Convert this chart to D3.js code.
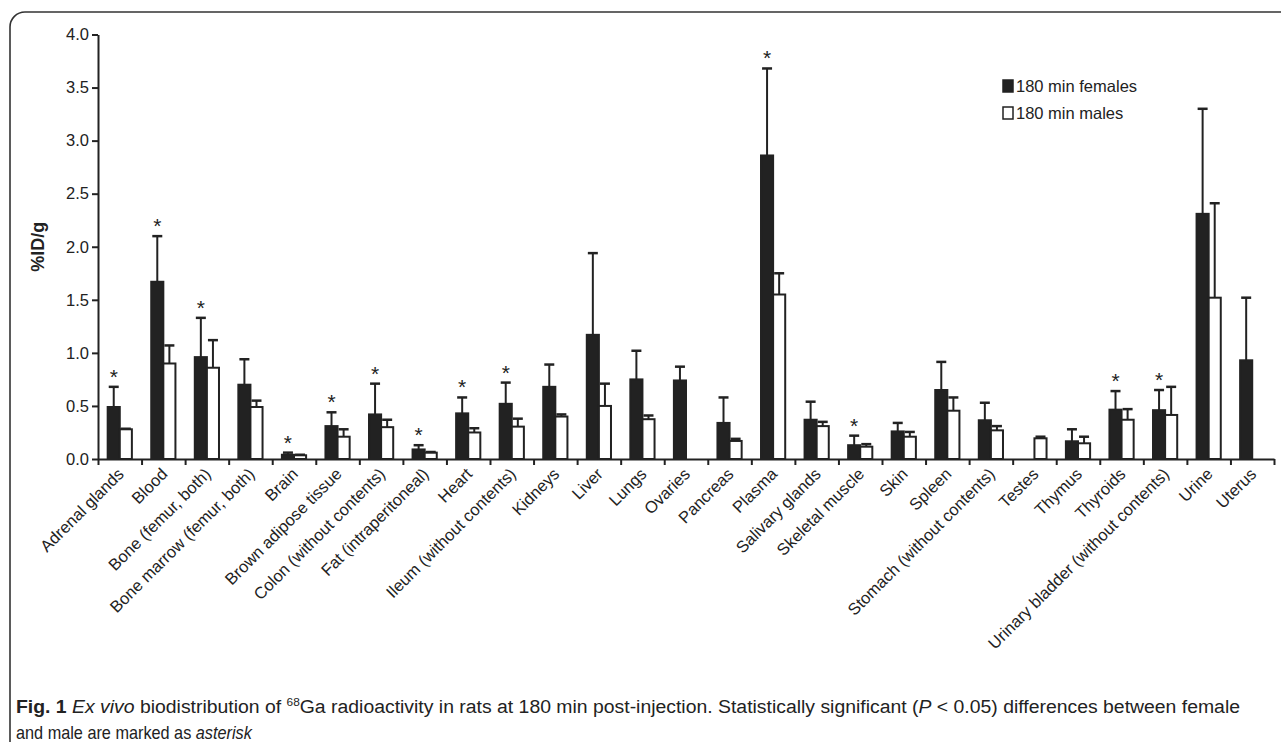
<!DOCTYPE html>
<html>
<head>
<meta charset="utf-8">
<script src="https://cdn.jsdelivr.net/npm/d3@7"></script>
<style>
  body { margin: 0; background: #fff; }
  svg { display: block; }
  text { font-family: "Liberation Sans", Arial, sans-serif; fill: #222; }
</style>
</head>
<body>
<div id="canvas"></div>
<script>
// data (%ID/g, mean and upper SD)
const categories = ["Adrenal glands", "Blood", "Bone (femur, both)", "Bone marrow (femur, both)", "Brain",
  "Brown adipose tissue", "Colon (without contents)", "Fat (intraperitoneal)", "Heart", "Ileum (without contents)",
  "Kidneys", "Liver", "Lungs", "Ovaries", "Pancreas", "Plasma", "Salivary glands", "Skeletal muscle", "Skin",
  "Spleen", "Stomach (without contents)", "Testes", "Thymus", "Thyroids", "Urinary bladder (without contents)",
  "Urine", "Uterus"];

const females = [0.49, 1.67, 0.96, 0.70, 0.04, 0.31, 0.42, 0.09, 0.43, 0.52, 0.68, 1.17, 0.75, 0.74, 0.34, 2.86,
  0.37, 0.13, 0.26, 0.65, 0.365, null, 0.167, 0.465, 0.46, 2.31, 0.93];
const femalesSD = [0.19, 0.43, 0.37, 0.24, 0.02, 0.13, 0.29, 0.04, 0.15, 0.20, 0.21, 0.77, 0.27, 0.13, 0.24, 0.82,
  0.17, 0.09, 0.08, 0.265, 0.165, null, 0.113, 0.175, 0.19, 0.99, 0.59];
const males = [0.28, 0.90, 0.86, 0.49, 0.035, 0.21, 0.30, 0.06, 0.25, 0.305, 0.40, 0.50, 0.375, null, 0.17, 1.55,
  0.31, 0.116, 0.21, 0.455, 0.27, 0.195, 0.148, 0.37, 0.415, 1.52, null];
const malesSD = [0.005, 0.17, 0.26, 0.06, 0.005, 0.07, 0.07, 0.006, 0.04, 0.075, 0.02, 0.21, 0.035, null, 0.02, 0.20,
  0.04, 0.024, 0.045, 0.125, 0.04, 0.015, 0.062, 0.10, 0.265, 0.89, null];
const significant = ["Adrenal glands", "Blood", "Bone (femur, both)", "Brain", "Brown adipose tissue",
  "Colon (without contents)", "Fat (intraperitoneal)", "Heart", "Ileum (without contents)", "Plasma",
  "Skeletal muscle", "Thyroids", "Urinary bladder (without contents)"];
const yTicks = [0, 0.5, 1.0, 1.5, 2.0, 2.5, 3.0, 3.5, 4.0];
const seriesNames = ["180 min females", "180 min males"];

const width = 1281;
const height = 742;
const margin = { top: 34.5, left: 98, bottom: 283, right: 7 };
const dark = "#222";

const svg = d3.select("#canvas").append("svg")
  .attr("width", width)
  .attr("height", height);

// panel frame
svg.append("rect")
  .attr("x", 10).attr("y", 12)
  .attr("width", 1290).attr("height", 760)
  .attr("rx", 15)
  .attr("fill", "none")
  .attr("stroke", "#333")
  .attr("stroke-width", 1.6);

const y = d3.scaleLinear()
  .domain([0, 4])
  .range([height - margin.bottom, margin.top]);

const x = d3.scaleBand()
  .domain(categories)
  .range([margin.left, width - margin.right])
  .padding(0);

const xs = d3.scaleBand()
  .domain(["f", "m"])
  .range([0, x.bandwidth()])
  .paddingInner(0)
  .paddingOuter(0.8);

const xEdges = d3.scaleLinear()
  .domain([0, categories.length])
  .range(x.range());

// y axis
const yAxis = svg.append("g")
  .attr("transform", `translate(${margin.left},0)`)
  .call(d3.axisLeft(y).tickValues(yTicks).tickFormat(d3.format(".1f")).tickSize(6).tickSizeOuter(0));
yAxis.select(".domain").attr("stroke", dark).attr("stroke-width", 2);
yAxis.selectAll(".tick line").attr("stroke", dark).attr("stroke-width", 2);
yAxis.selectAll(".tick text")
  .attr("x", -9)
  .style("font-size", "16.5px")
  .style("font-family", "Liberation Sans, Arial, sans-serif")
  .attr("fill", dark);

svg.append("text")
  .attr("transform", `translate(44,${y(2)}) rotate(-90)`)
  .attr("text-anchor", "middle")
  .style("font-size", "18px")
  .style("font-weight", "bold")
  .text("%ID/g");

// x axis with ticks between categories
const xAxis = svg.append("g")
  .attr("transform", `translate(0,${y(0)})`)
  .call(d3.axisBottom(xEdges).tickValues(d3.range(categories.length + 1)).tickFormat("").tickSize(6).tickSizeOuter(0));
xAxis.select(".domain").attr("stroke", dark).attr("stroke-width", 2);
xAxis.selectAll(".tick line").attr("stroke", dark).attr("stroke-width", 2);

svg.append("g").selectAll("text")
  .data(categories)
  .join("text")
  .attr("transform", d => `translate(${x(d) + x.bandwidth() / 2 + 1},${y(0) + 12}) rotate(-45)`)
  .attr("text-anchor", "end")
  .attr("dy", "0.35em")
  .style("font-size", "16.5px")
  .text(d => d);

// bars
const rows = categories.map((c, i) => ({
  cat: c,
  f: females[i], fsd: femalesSD[i],
  m: males[i], msd: malesSD[i]
}));

const plot = svg.append("g");

function drawSeries(key, sdKey, fill) {
  const data = rows.filter(d => d[key] != null);
  const g = plot.append("g");
  g.selectAll("rect")
    .data(data)
    .join("rect")
    .attr("x", d => x(d.cat) + xs(key))
    .attr("y", d => y(d[key]))
    .attr("width", xs.bandwidth())
    .attr("height", d => y(0) - y(d[key]))
    .attr("fill", fill)
    .attr("stroke", dark)
    .attr("stroke-width", 2);

  const cx = d => x(d.cat) + xs(key) + xs.bandwidth() / 2;
  g.selectAll("line.err")
    .data(data)
    .join("line")
    .attr("class", "err")
    .attr("x1", cx).attr("x2", cx)
    .attr("y1", d => y(d[key]))
    .attr("y2", d => y(d[key] + d[sdKey]))
    .attr("stroke", dark)
    .attr("stroke-width", 2);
  g.selectAll("line.cap")
    .data(data)
    .join("line")
    .attr("class", "cap")
    .attr("x1", d => cx(d) - 5).attr("x2", d => cx(d) + 5)
    .attr("y1", d => y(d[key] + d[sdKey]))
    .attr("y2", d => y(d[key] + d[sdKey]))
    .attr("stroke", dark)
    .attr("stroke-width", 2.5);
}

drawSeries("f", "fsd", dark);
drawSeries("m", "msd", "#fff");

// significance stars above the female error bars
plot.append("g").selectAll("text")
  .data(rows.filter(d => significant.includes(d.cat)))
  .join("text")
  .attr("x", d => x(d.cat) + xs("f") + xs.bandwidth() / 2)
  .attr("y", d => y(d.f + d.fsd) - 3)
  .attr("text-anchor", "middle")
  .style("font-size", "21px")
  .text("*");

// legend
const legend = svg.append("g").attr("transform", "translate(1003,0)");
seriesNames.forEach((name, i) => {
  const ly = 92 + i * 27;
  legend.append("rect")
    .attr("x", 0).attr("y", ly - 12)
    .attr("width", 10).attr("height", 12)
    .attr("fill", i === 0 ? dark : "#fff")
    .attr("stroke", dark)
    .attr("stroke-width", 1.5);
  legend.append("text")
    .attr("x", 13).attr("y", ly)
    .style("font-size", "16.5px")
    .text(name);
});

// caption
const cap1 = svg.append("text")
  .attr("x", 16).attr("y", 713)
  .attr("textLength", 1224)
  .attr("lengthAdjust", "spacingAndGlyphs")
  .style("font-size", "18px");
cap1.append("tspan").style("font-weight", "bold").text("Fig. 1 ");
cap1.append("tspan").style("font-style", "italic").text("Ex vivo");
cap1.append("tspan").text(" biodistribution of ");
cap1.append("tspan").attr("dy", -7).style("font-size", "11px").text("68");
cap1.append("tspan").attr("dy", 7).text("Ga radioactivity in rats at 180 min post-injection. Statistically significant (");
cap1.append("tspan").style("font-style", "italic").text("P");
cap1.append("tspan").text(" < 0.05) differences between female");

const cap2 = svg.append("text")
  .style("font-size", "18px");
cap2.append("tspan").text("and male are marked as ");
cap2.append("tspan").style("font-style", "italic").text("asterisk");
const cap2Len = cap2.node().getComputedTextLength();
cap2.attr("transform", `translate(16,739) scale(${236 / cap2Len},1)`);
</script>
</body>
</html>
